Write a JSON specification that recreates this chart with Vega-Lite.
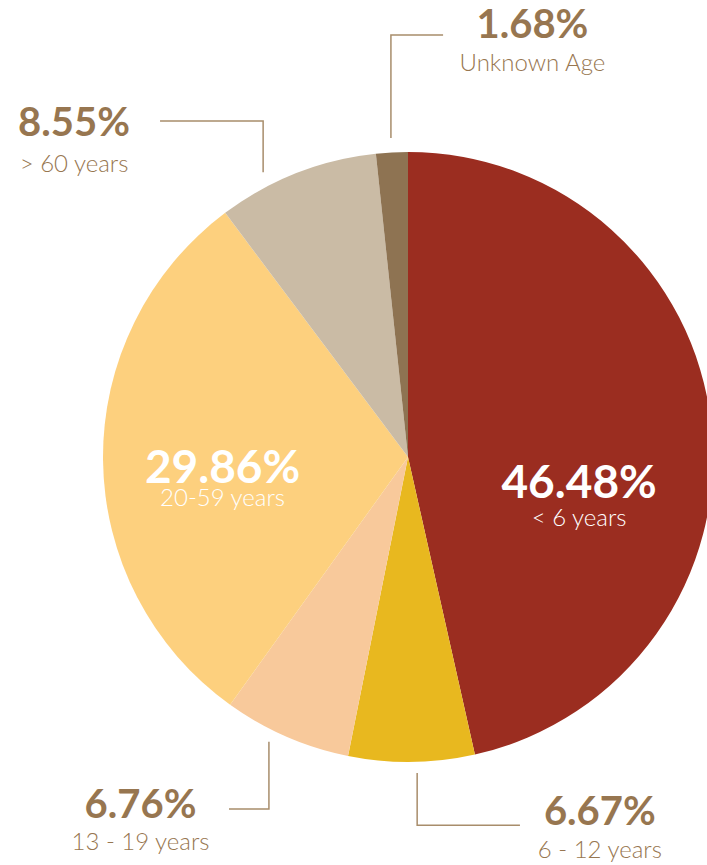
{
  "$schema": "https://vega.github.io/schema/vega-lite/v6.json",
  "width": 707,
  "height": 865,
  "autosize": {"type": "none"},
  "padding": 0,
  "background": "#ffffff",
  "config": {"view": {"stroke": null}, "font": "Lato"},
  "resolve": {"scale": {"color": "independent", "size": "independent"}},
  "datasets": {
    "slices": [
      {"group": "< 6 years", "share": 46.48, "idx": 1},
      {"group": "6 - 12 years", "share": 6.67, "idx": 2},
      {"group": "13 - 19 years", "share": 6.76, "idx": 3},
      {"group": "20-59 years", "share": 29.86, "idx": 4},
      {"group": "> 60 years", "share": 8.55, "idx": 5},
      {"group": "Unknown Age", "share": 1.68, "idx": 6}
    ],
    "labels": [
      {"pct": "46.48%", "sub": "< 6 years", "tone": "inside", "big": "yes", "lx": 56.1, "ly": -13.4, "sy": -22.6},
      {"pct": "29.86%", "sub": "20-59 years", "tone": "inside", "big": "yes", "lx": -60.8, "ly": -8.5, "sy": -16.0},
      {"pct": "1.68%", "sub": "Unknown Age", "tone": "outside", "big": "no", "lx": 40.8, "ly": 137.5, "sy": 126.4},
      {"pct": "8.55%", "sub": "> 60 years", "tone": "outside", "big": "no", "lx": -109.5, "ly": 105.2, "sy": 93.6},
      {"pct": "6.76%", "sub": "13 - 19 years", "tone": "outside", "big": "no", "lx": -87.7, "ly": -118.4, "sy": -129.0},
      {"pct": "6.67%", "sub": "6 - 12 years", "tone": "outside", "big": "no", "lx": 62.9, "ly": -120.7, "sy": -131.6}
    ],
    "leaders": [
      {"seg": "unknown", "ord": 1, "lx": 11.5, "ly": 138.4},
      {"seg": "unknown", "ord": 2, "lx": -5.6, "ly": 138.4},
      {"seg": "unknown", "ord": 3, "lx": -5.6, "ly": 104.6},
      {"seg": "over60", "ord": 1, "lx": -81.3, "ly": 110.2},
      {"seg": "over60", "ord": 2, "lx": -47.5, "ly": 110.2},
      {"seg": "over60", "ord": 3, "lx": -47.5, "ly": 93.4},
      {"seg": "teen", "ord": 1, "lx": -58.7, "ly": -115.4},
      {"seg": "teen", "ord": 2, "lx": -45.6, "ly": -115.4},
      {"seg": "teen", "ord": 3, "lx": -45.6, "ly": -93.4},
      {"seg": "child", "ord": 1, "lx": 36.7, "ly": -120.7},
      {"seg": "child", "ord": 2, "lx": 3.0, "ly": -120.7},
      {"seg": "child", "ord": 3, "lx": 3.0, "ly": -103.6}
    ]
  },
  "layer": [
    {
      "data": {"name": "slices"},
      "mark": {"type": "arc", "outerRadius": 305, "stroke": null},
      "encoding": {
        "x": {"datum": 0, "type": "quantitative", "scale": {"domain": [-133.77, 98.03], "nice": false, "zero": false}, "axis": null},
        "y": {"datum": 0, "type": "quantitative", "scale": {"domain": [-133.77, 149.84], "nice": false, "zero": false}, "axis": null},
        "theta": {"field": "share", "type": "quantitative", "stack": true},
        "order": {"field": "idx", "type": "quantitative"},
        "color": {
          "field": "group",
          "type": "nominal",
          "scale": {
            "domain": ["< 6 years", "6 - 12 years", "13 - 19 years", "20-59 years", "> 60 years", "Unknown Age"],
            "range": ["#9B2D20", "#E8B81F", "#F8C99B", "#FDD07E", "#CABBA5", "#8E7352"]
          },
          "legend": null
        }
      }
    },
    {
      "data": {"name": "leaders"},
      "mark": {"type": "line", "color": "#A88D6B", "strokeWidth": 1.5, "interpolate": "linear"},
      "encoding": {
        "x": {"field": "lx", "type": "quantitative", "scale": {"domain": [-133.77, 98.03], "nice": false, "zero": false}, "axis": null},
        "y": {"field": "ly", "type": "quantitative", "scale": {"domain": [-133.77, 149.84], "nice": false, "zero": false}, "axis": null},
        "detail": {"field": "seg", "type": "nominal"},
        "order": {"field": "ord", "type": "quantitative"}
      }
    },
    {
      "data": {"name": "labels"},
      "mark": {"type": "text", "font": "Lato", "fontWeight": "bold", "align": "center", "baseline": "alphabetic"},
      "encoding": {
        "x": {"field": "lx", "type": "quantitative", "scale": {"domain": [-133.77, 98.03], "nice": false, "zero": false}, "axis": null},
        "y": {"field": "ly", "type": "quantitative", "scale": {"domain": [-133.77, 149.84], "nice": false, "zero": false}, "axis": null},
        "text": {"field": "pct", "type": "nominal"},
        "size": {"field": "big", "type": "nominal", "scale": {"domain": ["yes", "no"], "range": [46, 40]}, "legend": null},
        "color": {"field": "tone", "type": "nominal", "scale": {"domain": ["inside", "outside"], "range": ["#FFFFFF", "#977650"]}, "legend": null}
      }
    },
    {
      "data": {"name": "labels"},
      "mark": {"type": "text", "font": "Lato", "fontWeight": 300, "fontSize": 24, "align": "center", "baseline": "alphabetic"},
      "encoding": {
        "x": {"field": "lx", "type": "quantitative", "scale": {"domain": [-133.77, 98.03], "nice": false, "zero": false}, "axis": null},
        "y": {"field": "sy", "type": "quantitative", "scale": {"domain": [-133.77, 149.84], "nice": false, "zero": false}, "axis": null},
        "text": {"field": "sub", "type": "nominal"},
        "color": {"field": "tone", "type": "nominal", "scale": {"domain": ["inside", "outside"], "range": ["#FFFFFF", "#977650"]}, "legend": null}
      }
    }
  ]
}
